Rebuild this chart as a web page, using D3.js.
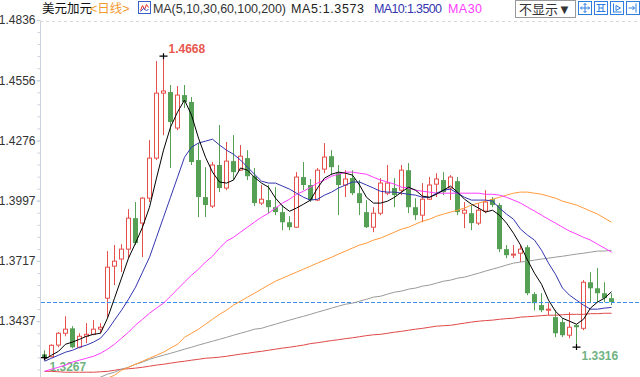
<!DOCTYPE html>
<html>
<head>
<meta charset="utf-8">
<script src="https://cdn.jsdelivr.net/npm/d3@7"></script>
<style>
body { margin: 0; background: #fff; }
svg { display: block; font-family: "Liberation Sans", Arial, "Noto Sans CJK SC", sans-serif; }
</style>
</head>
<body>
<div id="chart"></div>
<script>

// daily candles, USD/CAD
var openP = [1.3282,1.3271,1.3325,1.3380,1.3403,1.3315,1.3366,1.3375,1.3399,1.3543,
    1.3692,1.3725,1.3771,1.3915,1.3892,1.4008,1.4194,1.4496,1.4501,1.4334,
    1.4487,1.4455,1.4185,1.4013,1.3971,1.4162,1.4055,1.4180,1.4138,1.4194,
    1.4110,1.3985,1.3999,1.3966,1.3943,1.3896,1.3873,1.4106,1.4069,1.3999,
    1.4143,1.4203,1.4124,1.4069,1.4101,1.4031,1.3943,1.3873,1.3938,1.4031,
    1.4055,1.4045,1.4138,1.3966,1.3929,1.4003,1.4073,1.4092,1.4055,1.4087,
    1.3938,1.3938,1.3892,1.3948,1.4003,1.3976,1.3771,1.3743,1.3752,1.3780,
    1.3562,1.3511,1.3487,1.3455,1.3432,1.3371,1.3418,1.3403,1.3617,1.3589,
    1.3566,1.3543];
var highP = [1.3301,1.3329,1.3385,1.3459,1.3413,1.3380,1.3427,1.3441,1.3427,1.3762,
    1.3790,1.3794,1.3957,1.3990,1.4013,1.4278,1.4645,1.4668,1.4534,1.4529,
    1.4534,1.4478,1.4264,1.4152,1.4176,1.4348,1.4269,1.4301,1.4255,1.4231,
    1.4148,1.4069,1.4069,1.4059,1.3976,1.3924,1.4129,1.4176,1.4097,1.4148,
    1.4264,1.4231,1.4162,1.4138,1.4138,1.4092,1.3999,1.3966,1.4101,1.4162,
    1.4101,1.4162,1.4171,1.4008,1.4078,1.4106,1.4124,1.4129,1.4115,1.4106,
    1.3990,1.3976,1.3985,1.4045,1.4013,1.3985,1.3790,1.3790,1.3790,1.3790,
    1.3571,1.3566,1.3520,1.3487,1.3450,1.3478,1.3422,1.3627,1.3664,1.3683,
    1.3617,1.3566];
var lowP = [1.3267,1.3268,1.3315,1.3366,1.3310,1.3310,1.3334,1.3371,1.3380,1.3455,
    1.3604,1.3664,1.3729,1.3790,1.3734,1.3990,1.4185,1.4301,1.4148,1.4324,
    1.4427,1.4162,1.3920,1.3920,1.3962,1.4036,1.4045,1.4092,1.4134,1.4092,
    1.3971,1.3976,1.3938,1.3929,1.3859,1.3859,1.3869,1.4045,1.3990,1.3994,
    1.4124,1.4115,1.3929,1.4013,1.4022,1.3929,1.3869,1.3850,1.3929,1.4022,
    1.3966,1.4022,1.3938,1.3906,1.3896,1.3999,1.4013,1.4022,1.3999,1.3929,
    1.3869,1.3859,1.3883,1.3938,1.3966,1.3757,1.3729,1.3729,1.3711,1.3557,
    1.3487,1.3478,1.3464,1.3362,1.3362,1.3357,1.3316,1.3394,1.3524,1.3524,
    1.3524,1.3511];
var closeP = [1.3268,1.3324,1.3380,1.3399,1.3315,1.3366,1.3375,1.3399,1.3408,1.3687,
    1.3715,1.3771,1.3915,1.3799,1.4008,1.4194,1.4496,1.4506,1.4362,1.4487,
    1.4455,1.4176,1.4013,1.3976,1.4162,1.4055,1.4180,1.4129,1.4203,1.4110,
    1.3985,1.4003,1.3966,1.3943,1.3896,1.3873,1.4106,1.4069,1.3999,1.4138,
    1.4199,1.4152,1.4069,1.4097,1.4031,1.3985,1.3873,1.3938,1.4078,1.4078,
    1.4022,1.4138,1.3966,1.3929,1.4003,1.4069,1.4097,1.4036,1.4106,1.3943,
    1.3952,1.3892,1.3952,1.3990,1.3976,1.3771,1.3743,1.3748,1.3771,1.3566,
    1.3520,1.3487,1.3492,1.3380,1.3371,1.3408,1.3408,1.3617,1.3589,1.3566,
    1.3543,1.3525];

// moving averages
var ma5 = [1.3259,1.3278,1.3296,1.3329,1.3339,1.3352,1.3366,1.3375,1.3380,1.3450,
    1.3543,1.3636,1.3729,1.3799,1.3873,1.3966,1.4101,1.4231,1.4338,1.4408,
    1.4464,1.4394,1.4287,1.4198,1.4129,1.4083,1.4078,1.4092,1.4148,1.4138,
    1.4105,1.4078,1.4059,1.4008,1.3971,1.3947,1.3962,1.3980,1.3999,1.4055,
    1.4101,1.4119,1.4129,1.4124,1.4115,1.4069,1.4012,1.3985,1.3985,1.3994,
    1.4012,1.4036,1.4059,1.4045,1.4017,1.4012,1.4026,1.4045,1.4064,1.4036,
    1.4003,1.3980,1.3962,1.3943,1.3952,1.3929,1.3892,1.3845,1.3790,1.3720,
    1.3659,1.3608,1.3534,1.3482,1.3450,1.3436,1.3422,1.3445,1.3497,1.3525,
    1.3543,1.3573];
var ma10 = [1.3250,1.3264,1.3278,1.3292,1.3301,1.3315,1.3325,1.3339,1.3357,1.3394,
    1.3441,1.3487,1.3538,1.3594,1.3664,1.3733,1.3826,1.3919,1.4012,1.4105,
    1.4198,1.4245,1.4264,1.4273,1.4282,1.4255,1.4231,1.4212,1.4185,1.4152,
    1.4119,1.4087,1.4078,1.4078,1.4064,1.4050,1.4031,1.4012,1.3999,1.4003,
    1.4022,1.4036,1.4055,1.4069,1.4083,1.4083,1.4069,1.4055,1.4040,1.4036,
    1.4036,1.4031,1.4026,1.4022,1.4012,1.4012,1.4031,1.4045,1.4050,1.4031,
    1.4012,1.3999,1.3999,1.3999,1.3994,1.3962,1.3934,1.3910,1.3864,1.3836,
    1.3813,1.3766,1.3706,1.3654,1.3590,1.3557,1.3534,1.3511,1.3492,1.3492,
    1.3497,1.3500];
var ma30 = [1.3203,1.3213,1.3222,1.3232,1.3246,1.3255,1.3264,1.3273,1.3287,1.3306,
    1.3329,1.3357,1.3385,1.3418,1.3445,1.3473,1.3497,1.3520,1.3552,1.3585,
    1.3618,1.3650,1.3678,1.3711,1.3738,1.3776,1.3808,1.3826,1.3850,1.3873,
    1.3897,1.3919,1.3938,1.3962,1.3985,1.4003,1.4026,1.4040,1.4059,1.4078,
    1.4092,1.4110,1.4119,1.4129,1.4129,1.4124,1.4119,1.4105,1.4092,1.4083,
    1.4073,1.4059,1.4055,1.4045,1.4040,1.4036,1.4031,1.4031,1.4031,1.4031,
    1.4031,1.4031,1.4031,1.4026,1.4026,1.4022,1.4012,1.3999,1.3985,1.3966,
    1.3948,1.3929,1.3910,1.3892,1.3873,1.3855,1.3841,1.3826,1.3813,1.3794,
    1.3776,1.3757];
var ma60 = [1.3046,1.3060,1.3073,1.3087,1.3101,1.3115,1.3129,1.3143,1.3157,1.3171,
    1.3185,1.3208,1.3222,1.3236,1.3250,1.3264,1.3278,1.3292,1.3311,1.3329,
    1.3361,1.3380,1.3399,1.3422,1.3445,1.3468,1.3487,1.3511,1.3529,1.3548,
    1.3566,1.3585,1.3604,1.3622,1.3636,1.3650,1.3664,1.3678,1.3692,1.3706,
    1.3720,1.3733,1.3748,1.3762,1.3776,1.3790,1.3799,1.3813,1.3822,1.3836,
    1.3850,1.3864,1.3873,1.3887,1.3901,1.3910,1.3924,1.3934,1.3943,1.3952,
    1.3962,1.3976,1.3985,1.3994,1.4003,1.4012,1.4022,1.4031,1.4036,1.4036,
    1.4031,1.4026,1.4017,1.4008,1.3994,1.3985,1.3976,1.3962,1.3948,1.3934,
    1.3915,1.3896];
var ma100 = [1.3092,1.3101,1.3111,1.3125,1.3134,1.3143,1.3153,1.3166,1.3176,1.3190,
    1.3199,1.3213,1.3222,1.3236,1.3246,1.3259,1.3269,1.3278,1.3287,1.3296,
    1.3306,1.3315,1.3325,1.3334,1.3343,1.3352,1.3361,1.3371,1.3380,1.3389,
    1.3399,1.3403,1.3413,1.3422,1.3432,1.3441,1.3450,1.3459,1.3468,1.3478,
    1.3487,1.3497,1.3506,1.3515,1.3520,1.3529,1.3538,1.3548,1.3552,1.3562,
    1.3571,1.3576,1.3585,1.3590,1.3599,1.3604,1.3613,1.3622,1.3627,1.3636,
    1.3641,1.3650,1.3659,1.3669,1.3678,1.3687,1.3697,1.3706,1.3711,1.3715,
    1.3720,1.3725,1.3729,1.3734,1.3738,1.3743,1.3748,1.3752,1.3757,1.3762,
    1.3762,1.3766];
var ma200 = [1.3203,1.3203,1.3201,1.3199,1.3199,1.3199,1.3199,1.3199,1.3201,1.3203,
    1.3208,1.3213,1.3215,1.3218,1.3222,1.3227,1.3232,1.3236,1.3241,1.3246,
    1.3250,1.3255,1.3259,1.3264,1.3266,1.3269,1.3273,1.3278,1.3283,1.3287,
    1.3292,1.3296,1.3301,1.3306,1.3311,1.3315,1.3320,1.3325,1.3332,1.3336,
    1.3341,1.3346,1.3350,1.3355,1.3359,1.3364,1.3369,1.3373,1.3375,1.3380,
    1.3385,1.3389,1.3394,1.3399,1.3403,1.3408,1.3413,1.3415,1.3417,1.3422,
    1.3427,1.3432,1.3436,1.3439,1.3441,1.3445,1.3448,1.3450,1.3455,1.3457,
    1.3459,1.3462,1.3464,1.3464,1.3466,1.3468,1.3468,1.3468,1.3471,1.3471,
    1.3473,1.3473];

var yTicks = [1.4836, 1.4556, 1.4276, 1.3997, 1.3717, 1.3437];
var maSeries = [ma200, ma100, ma60, ma30, ma10, ma5];
var maColors = ["#e04848", "#9a9a9a", "#ff9a3c", "#ff3cff", "#3434b0", "#000000"];

// extremes marked on the chart: [index, "high"|"low"]
var marks = [[17, "high"], [0, "low"], [76, "low"]];

var W = 640, H = 377;
var upCol = "#e6504a", downCol = "#55a055";

var svg = d3.select("#chart").append("svg")
    .attr("width", W)
    .attr("height", H);

svg.append("rect").attr("width", W).attr("height", H).attr("fill", "#fff");

var x = d3.scaleLinear().domain([0, closeP.length - 1]).range([44.5, 611.5]);
var y = d3.scaleLinear().domain([1.3437, 1.4836]).range([321, 20]);

svg.append("defs").append("clipPath")
    .attr("id", "clip")
    .append("rect")
    .attr("x", 41).attr("y", 22)
    .attr("width", W - 41).attr("height", H - 22);

// ---- header ----
var head = svg.append("g").attr("font-size", 12.5);
head.append("text").attr("x", 42).attr("y", 13).attr("fill", "#111").text("美元加元");
head.append("text").attr("x", 90).attr("y", 13).attr("fill", "#f29a2e").text("<日线>");

var ic = head.append("g").attr("transform", "translate(138.5,1.5)");
ic.append("rect").attr("width", 12).attr("height", 12).attr("fill", "#fff").attr("stroke", "#3a5fc8");
ic.append("path").attr("d", "M2,9 L4,4 L6,8 L8,3 L10,6").attr("fill", "none").attr("stroke", "#e03030");
ic.append("path").attr("d", "M2,10 L5,7 L8,9 L10,8").attr("fill", "none").attr("stroke", "#3a5fc8");

head.append("text").attr("x", 153).attr("y", 13).attr("fill", "#333")
    .attr("textLength", 133).text("MA(5,10,30,60,100,200)");
head.append("text").attr("x", 291).attr("y", 13).attr("fill", "#222")
    .attr("textLength", 73).text("MA5:" + ma5[ma5.length - 1].toFixed(4));
head.append("text").attr("x", 374).attr("y", 13).attr("fill", "#3434b0")
    .attr("textLength", 68).text("MA10:" + ma10[ma10.length - 1].toFixed(4));
head.append("text").attr("x", 448).attr("y", 13).attr("fill", "#ff3cff")
    .attr("textLength", 34).text("MA30");

head.append("rect").attr("x", 515.5).attr("y", 0.5).attr("width", 60).attr("height", 17)
    .attr("fill", "#fff").attr("stroke", "#999");
head.append("text").attr("x", 519).attr("y", 13.5).attr("fill", "#333").attr("font-size", 13).text("不显示▼");

var icons = [
    "M6.5,2 V11 M2,6.5 H11 M5,3.5 L6.5,2 L8,3.5 M5,9.5 L6.5,11 L8,9.5 M3.5,5 L2,6.5 L3.5,8 M9.5,5 L11,6.5 L9.5,8",
    "M2,3 H11 M2,10 H11 M4.5,3 V10 M8.5,3 V10 M4.5,6.5 H8.5",
    "M3,2 V11 M3,10.5 H11 M5.5,4 V9 L10,6.5 Z",
    "M9.5,2 V11 M2,6.5 H8 M6,4.5 L8,6.5 L6,8.5"
];
icons.forEach(function(d, i) {
    var g = head.append("g").attr("transform", "translate(" + (578.5 + i * 16) + ",1.5)");
    g.append("rect").attr("width", 13).attr("height", 13).attr("fill", "#fff").attr("stroke", "#2f7ee0");
    g.append("path").attr("d", d).attr("fill", "none").attr("stroke", "#2f7ee0");
});

// top dashed border
svg.append("line")
    .attr("x1", 40).attr("x2", W).attr("y1", 21.5).attr("y2", 21.5)
    .attr("stroke", "#d8d8d8").attr("stroke-dasharray", "3,3");

// ---- y axis ----
var minor = d3.range(0, 30).map(function(k) { return yTicks[0] - k * 0.0056; });
svg.append("g")
    .attr("transform", "translate(40.5,0)")
    .call(d3.axisLeft(y).tickValues(minor).tickSize(3).tickFormat(""))
    .call(function(g) {
        g.select(".domain").remove();
        g.selectAll("line").attr("stroke", "#c8d2de");
    });

svg.append("g")
    .attr("transform", "translate(40.5,0)")
    .call(d3.axisLeft(y).tickValues(yTicks).tickSize(4).tickPadding(1).tickFormat(d3.format(".4f")))
    .call(function(g) {
        g.select(".domain").attr("d", "M0,22V" + H).attr("stroke", "#c8d2de");
        g.selectAll("line").attr("stroke", "#c8d2de");
        g.selectAll("text").attr("fill", "#333").attr("font-size", 12)
            .attr("font-family", "Liberation Sans, Arial, sans-serif");
    });

// ---- candles ----
var plot = svg.append("g").attr("clip-path", "url(#clip)");
var idx = d3.range(closeP.length);

var cg = plot.selectAll("g.candle").data(idx).enter().append("g").attr("class", "candle");

cg.each(function(i) {
    var g = d3.select(this);
    var up = closeP[i] >= openP[i];
    var col = up ? upCol : downCol;
    var top = y(Math.max(openP[i], closeP[i]));
    var bot = y(Math.min(openP[i], closeP[i]));
    var cx = x(i);
    if (up) {
        g.append("line").attr("x1", cx).attr("x2", cx).attr("y1", y(highP[i])).attr("y2", top).attr("stroke", col);
        g.append("line").attr("x1", cx).attr("x2", cx).attr("y1", bot).attr("y2", y(lowP[i])).attr("stroke", col);
        g.append("rect")
            .attr("x", cx - 2).attr("y", top)
            .attr("width", 4).attr("height", Math.max(bot - top, 1))
            .attr("fill", "#fff").attr("stroke", col);
    } else {
        g.append("line").attr("x1", cx).attr("x2", cx).attr("y1", y(highP[i])).attr("y2", y(lowP[i])).attr("stroke", col);
        g.append("rect")
            .attr("x", cx - 2.5).attr("y", top)
            .attr("width", 5).attr("height", Math.max(bot - top, 1.2))
            .attr("fill", col);
    }
});

// ---- high / low marks ----
marks.forEach(function(m) {
    var i = m[0], v = m[1] == "high" ? highP[i] : lowP[i];
    var px = x(i), py = y(v);
    plot.append("path")
        .attr("d", "M" + (px - 4) + "," + py + "H" + (px + 4) + "M" + px + "," + (py - 3) + "V" + (py + 3))
        .attr("stroke", "#000").attr("stroke-width", 1.2);
    plot.append("text")
        .attr("x", px + 5)
        .attr("y", m[1] == "high" ? py - 3 : py + 13)
        .attr("font-size", 12).attr("font-weight", "bold")
        .attr("fill", m[1] == "high" ? "#e8574e" : "#70b382")
        .text(v.toFixed(4));
});

// ---- last price line ----
plot.append("line")
    .attr("x1", 41).attr("x2", W)
    .attr("y1", Math.round(y(closeP[closeP.length - 1])) + 0.5)
    .attr("y2", Math.round(y(closeP[closeP.length - 1])) + 0.5)
    .attr("stroke", "#3d8ff0").attr("stroke-dasharray", "4,2");

// ---- moving averages ----
var line = d3.line()
    .x(function(d, i) { return x(i); })
    .y(function(d) { return y(d); });

maSeries.forEach(function(s, k) {
    plot.append("path")
        .datum(s)
        .attr("d", line)
        .attr("fill", "none")
        .attr("stroke", maColors[k])
        .attr("stroke-width", 1)
        .attr("stroke-linejoin", "round");
});

</script>
</body>
</html>
